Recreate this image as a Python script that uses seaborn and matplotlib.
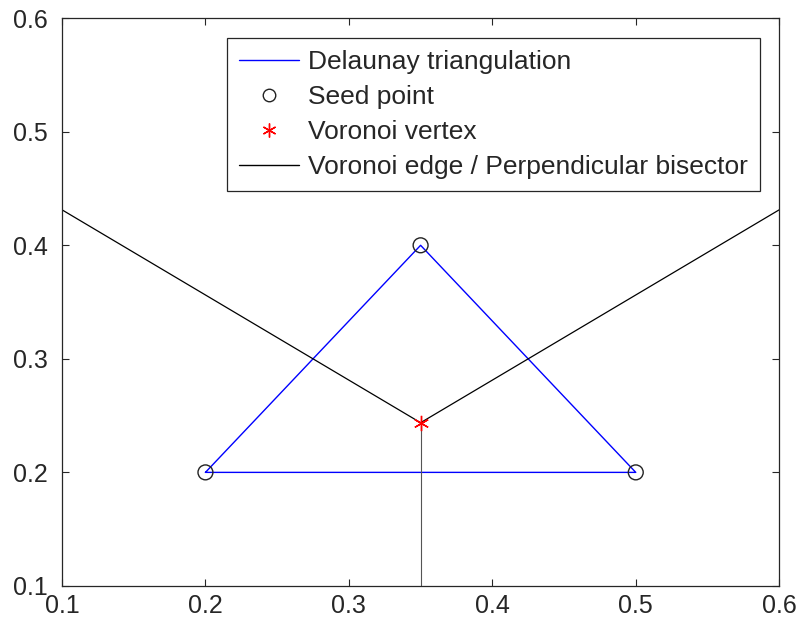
import numpy as np
import pandas as pd
import matplotlib
matplotlib.use("Agg")
import matplotlib.pyplot as plt
import seaborn as sns
from matplotlib.lines import Line2D

# Data
seed_x = [0.2, 0.35, 0.5]
seed_y = [0.2, 0.4, 0.2]
vertex_x = [0.35]
vertex_y = [0.24375]
# Voronoi edges (from vertex to the boundary)
edge_left_x = [0.35, 0.1]
edge_left_y = [0.24375, 0.43125]
edge_right_x = [0.35, 0.6]
edge_right_y = [0.24375, 0.43125]
edge_down_x = [0.35, 0.35]
edge_down_y = [0.24375, 0.1]
x_ticks = [0.1, 0.2, 0.3, 0.4, 0.5, 0.6]
y_ticks = [0.1, 0.2, 0.3, 0.4, 0.5, 0.6]

sns.set_style("white")
plt.rcParams['font.family'] = ['Liberation Sans', 'DejaVu Sans']

fig = plt.figure(figsize=(8, 6.28), dpi=100)
ax = fig.add_axes([0.0775, 0.067, 0.8965, 0.904])

tri = pd.DataFrame({"x": seed_x + [seed_x[0]], "y": seed_y + [seed_y[0]]})
sns.lineplot(data=tri, x="x", y="y", sort=False, estimator=None, color="#0000ff",
             lw=1.0, ax=ax)
for ex, ey in [(edge_left_x, edge_left_y), (edge_right_x, edge_right_y)]:
    sns.lineplot(x=ex, y=ey, sort=False, estimator=None, color="black", lw=0.9, ax=ax)
sns.lineplot(x=edge_down_x, y=edge_down_y, sort=False, estimator=None, color="#555555", lw=0.8, ax=ax)
sns.scatterplot(x=seed_x, y=seed_y, marker="o", s=115, facecolor="none",
                edgecolor="#222222", linewidth=1.0, ax=ax, zorder=5)
ax.plot(vertex_x, vertex_y, marker=(6, 2, 0), ms=11, mew=1.0, color="red",
        linestyle="none", zorder=6)

ax.set_xlim(0.1, 0.6)
ax.set_ylim(0.1, 0.6)
ax.set_xticks(x_ticks)
ax.set_yticks(y_ticks)
ax.set_xticklabels([f"{v:.1f}" for v in x_ticks])
ax.set_yticklabels([f"{v:.1f}" for v in y_ticks])
ax.set_xlabel("")
ax.set_ylabel("")
ax.tick_params(axis="both", labelsize=18, colors="#262626", direction="in", length=5,
               width=0.8, bottom=True, left=True, top=True, right=True)
ax.tick_params(axis="x", pad=6)
ax.tick_params(axis="y", pad=10)
for sp in ax.spines.values():
    sp.set_color("#262626")
    sp.set_linewidth(0.9)

handles = [
    Line2D([], [], color="#0000ff", lw=1.0),
    Line2D([], [], marker="o", ms=9, mfc="none", mec="#222222", ls="none"),
    Line2D([], [], marker=(6, 2, 0), ms=10, color="red", ls="none"),
    Line2D([], [], color="black", lw=1.0),
]
labels = ["Delaunay triangulation", "Seed point", "Voronoi vertex",
          "Voronoi edge / Perpendicular bisector"]
leg = ax.legend(handles, labels, loc="upper right", bbox_to_anchor=(0.9735, 0.965),
                fontsize=19, frameon=True, fancybox=False, framealpha=1,
                edgecolor="#262626", borderpad=0.45, labelspacing=0.42,
                handlelength=2.3, handletextpad=0.34, borderaxespad=0)
leg.get_frame().set_linewidth(0.9)
for t in leg.get_texts():
    t.set_color("#262626")

fig.savefig("out.png", dpi=100)
